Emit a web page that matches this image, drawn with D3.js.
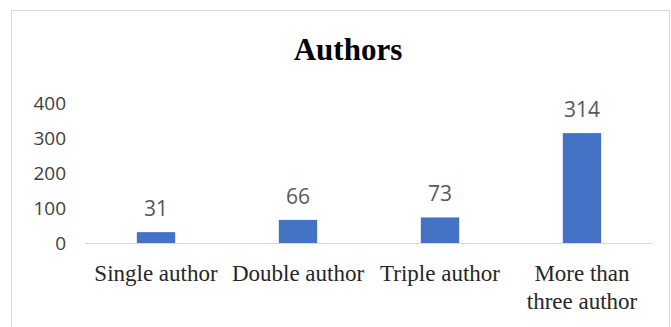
<!DOCTYPE html>
<html>
<head>
<meta charset="utf-8">
<script src="https://cdn.jsdelivr.net/npm/d3@7"></script>
<style>
  body { margin: 0; background: #fff; }
</style>
</head>
<body>
<script>
// chart data
var categories = ["Single author", "Double author", "Triple author", "More than three author"];
var catLines = [["Single author"], ["Double author"], ["Triple author"], ["More than", "three author"]];
var counts = [31, 66, 73, 314];
var yTicks = [0, 100, 200, 300, 400];

var svgWidth = 671, svgHeight = 327;
var plotLeft = 85, plotRight = 653, plotTop = 103, plotBottom = 243;

var svg = d3.select("body").append("svg")
  .attr("width", svgWidth)
  .attr("height", svgHeight);

// outer frame
svg.append("rect")
  .attr("x", 11.5).attr("y", 10.5)
  .attr("width", 658).attr("height", 330)
  .attr("fill", "#fff")
  .attr("stroke", "#d9d9d9");

svg.append("text")
  .attr("x", 348).attr("y", 60)
  .attr("text-anchor", "middle")
  .attr("font-family", "Liberation Serif, serif")
  .attr("font-weight", "bold")
  .attr("font-size", "31px")
  .attr("fill", "#000")
  .text("Authors");

var xScale = d3.scaleBand()
  .domain(categories)
  .range([plotLeft, plotRight])
  .paddingInner(0.73)
  .paddingOuter(0.365);

var yScale = d3.scaleLinear()
  .domain([0, 400])
  .range([plotBottom, plotTop]);

// y tick labels
svg.selectAll("text.ytick")
  .data(yTicks)
  .enter().append("text")
  .attr("class", "ytick")
  .attr("x", 66)
  .attr("y", function(d) { return yScale(d); })
  .attr("dy", "0.36em")
  .attr("text-anchor", "end")
  .attr("font-family", "Open Sans, sans-serif")
  .attr("font-size", "19px")
  .attr("fill", "#404040")
  .text(function(d) { return d; });

// bars
svg.selectAll("rect.bar")
  .data(counts)
  .enter().append("rect")
  .attr("class", "bar")
  .attr("x", function(d, i) { return xScale(categories[i]); })
  .attr("y", function(d) { return yScale(d); })
  .attr("width", xScale.bandwidth())
  .attr("height", function(d) { return plotBottom - yScale(d); })
  .attr("fill", "#4472c4");

// baseline
svg.append("line")
  .attr("x1", plotLeft).attr("x2", plotRight)
  .attr("y1", plotBottom + 0.5).attr("y2", plotBottom + 0.5)
  .attr("stroke", "#d9d9d9");

// value labels
svg.selectAll("text.val")
  .data(counts)
  .enter().append("text")
  .attr("class", "val")
  .attr("x", function(d, i) { return xScale(categories[i]) + xScale.bandwidth() / 2; })
  .attr("y", function(d) { return yScale(d) - 16; })
  .attr("text-anchor", "middle")
  .attr("font-family", "Open Sans, sans-serif")
  .attr("font-size", "21px")
  .attr("fill", "#595959")
  .text(function(d) { return d; });

// category labels
var catG = svg.selectAll("text.cat")
  .data(catLines)
  .enter().append("text")
  .attr("class", "cat")
  .attr("text-anchor", "middle")
  .attr("font-family", "Liberation Serif, serif")
  .attr("font-size", "23px")
  .attr("fill", "#262626");

catG.selectAll("tspan")
  .data(function(d, i) { return d.map(function(s) { return { s: s, i: i }; }); })
  .enter().append("tspan")
  .attr("x", function(d) { return xScale(categories[d.i]) + xScale.bandwidth() / 2; })
  .attr("y", function(d, j) { return 281 + j * 28; })
  .text(function(d) { return d.s; });
</script>
</body>
</html>
